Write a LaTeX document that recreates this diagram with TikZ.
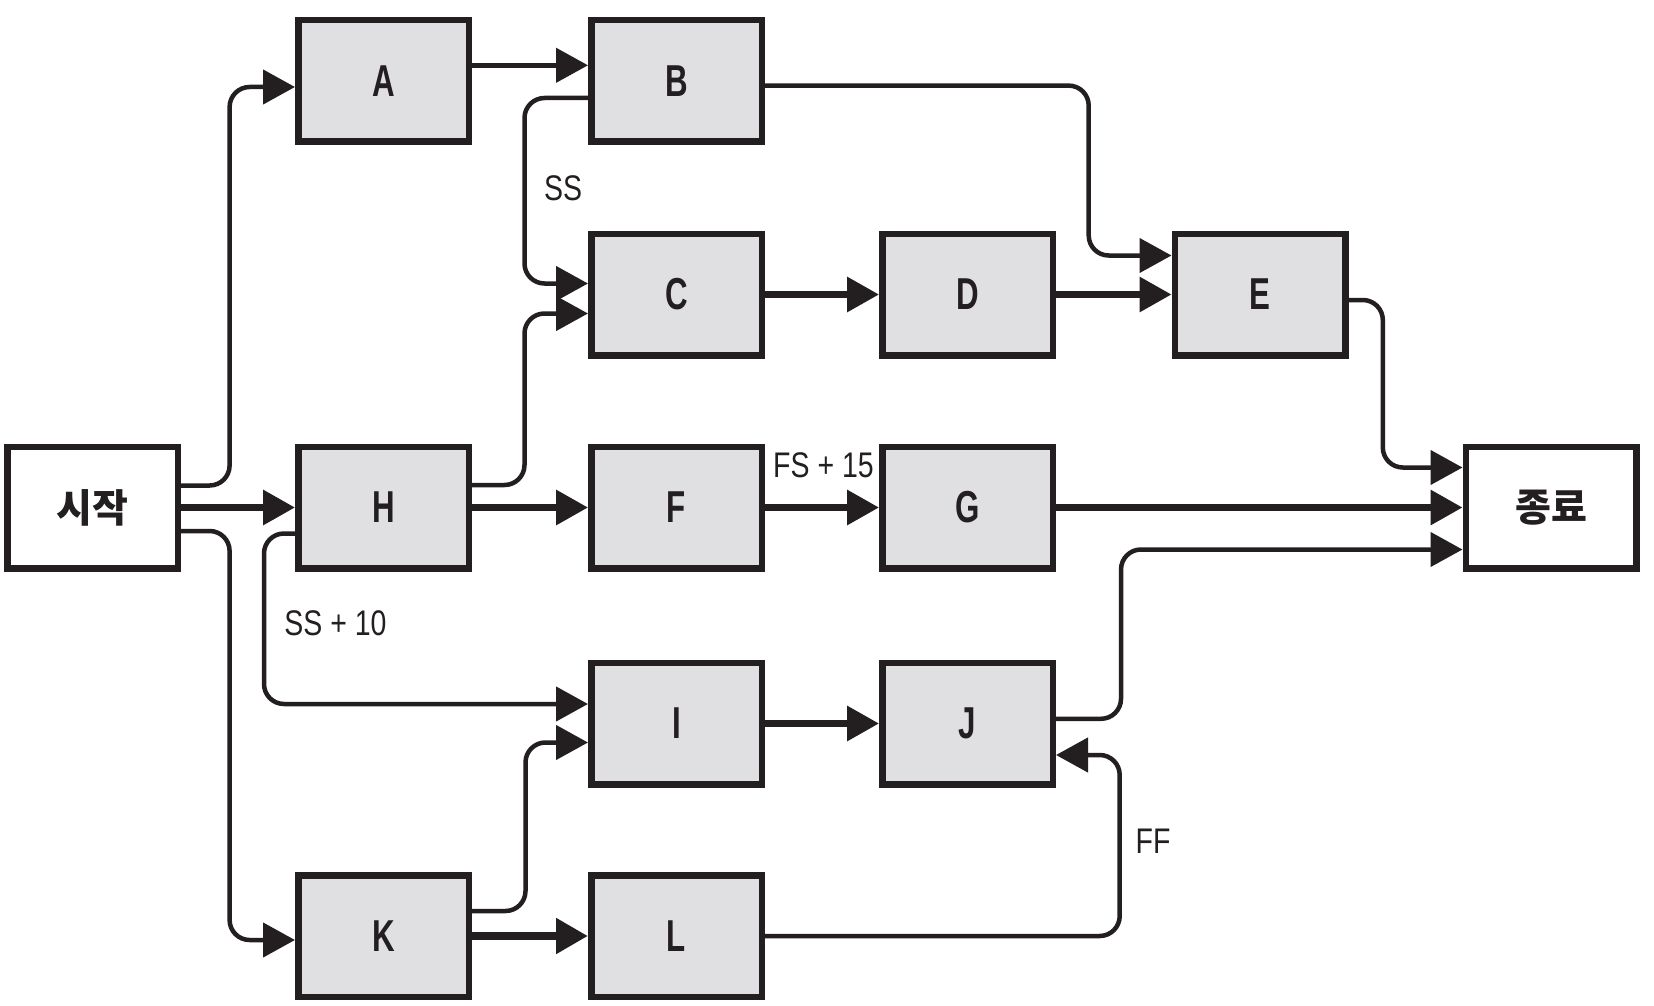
\documentclass[tikz,border=0pt]{standalone}
\usepackage{fontspec}
\setmainfont{Liberation Sans}
\newfontfamily\boxfont{Liberation Sans}[FakeStretch=0.70]
\newfontfamily\tagfont{Liberation Sans}[FakeStretch=0.80]
\newfontfamily\krfont{Noto Sans CJK KR}
\usetikzlibrary{arrows.meta,calc}
\definecolor{boxgray}{HTML}{E0E0E2}
\definecolor{ink}{HTML}{231F20}

\begin{document}
\begin{tikzpicture}[x=1pt,y=-1pt,
  task/.style={draw=ink, line width=6.5pt, fill=boxgray,
    minimum width=170.5pt, minimum height=121.5pt, inner sep=0pt,
    font=\boxfont\bfseries\fontsize{44.7}{50}\selectfont, text=ink},
  term/.style={task, fill=white, font=\krfont\bfseries\fontsize{39}{44}\selectfont},
  link/.style={draw=ink, line width=4.5pt, rounded corners=20pt,
    -{Triangle[length=32pt,width=34pt]}},
  strong/.style={link, line width=6.5pt},
  heavy/.style={link, line width=8.5pt},
  tag/.style={font=\tagfont\fontsize{35.6}{40}\selectfont, text=ink, inner sep=0pt}
]
\useasboundingbox (0,0) rectangle (1654,1006);
\fill[white] (0,0) rectangle (1654,1006);

% activity boxes
\node[term] (s) at (92.5,507.5) {시작};
\node[task] (A) at (383.5,81)    {A};
\node[task] (B) at (676.5,81)    {B};
\node[task] (C) at (676.5,294.5) {C};
\node[task] (D) at (967.5,294.5) {D};
\node[task] (E) at (1260,294.5)  {E};
\node[task] (H) at (383.5,507.5) {H};
\node[task] (F) at (676.5,507.5) {F};
\node[task] (G) at (967.5,507.5) {G};
\node[term] (T) at (1551,507.5)  {종료};
\node[task] (I) at (676.5,723.5) {I};
\node[task] (J) at (967.5,723.5) {J};
\node[task] (K) at (383.5,936)   {K};
\node[task] (L) at (676.5,936)   {L};

% vertical runs of the routed connectors
\coordinate (busSA) at (229.6,286);
\coordinate (busSK) at (229.6,735);
\coordinate (busBE) at (1088.7,170);
\coordinate (busBC) at (524.5,190);
\coordinate (busHC) at (524.5,400);
\coordinate (busET) at (1382.8,384);
\coordinate (busJT) at (1121,634);
\coordinate (busHI) at (264,620);
\coordinate (busKI) at (525.5,827);
\coordinate (busLJ) at (1119.7,845);

% straight links
\draw[strong] (s) -- (H);
\draw[link] ($(A.east)+(0,-15.7)$) -- ($(B.west)+(0,-15.7)$);
\draw[strong] (C) -- (D);
\draw[strong] (D) -- (E);
\draw[strong] (H) -- (F);
\draw[strong] (F) -- (G);
\draw[strong] (G) -- (T);
\draw[strong] (I) -- (J);
\draw[heavy] (K) -- (L);

% routed links
\draw[link] ($(s.east)+(0,-22)$) -| (busSA) |- ($(A.west)+(0,6)$);
\draw[link] ($(s.east)+(0,23.5)$) -| (busSK) |- ($(K.west)+(0,4)$);
\draw[link] ($(B.east)+(0,4.6)$) -| (busBE) |- ($(E.west)+(0,-39)$);
\draw[link] ($(B.west)+(0,17)$) -| (busBC) |- ($(C.west)+(0,-11)$);
\draw[link] ($(H.east)+(0,-22.5)$) -| (busHC) |- ($(C.west)+(0,19)$);
\draw[link] ($(E.east)+(0,5.5)$) -| (busET) |- ($(T.west)+(0,-40)$);
\draw[link] ($(J.east)+(0,-4.7)$) -| (busJT) |- ($(T.west)+(0,42)$);
\draw[link] ($(H.west)+(0,26)$) -| (busHI) |- ($(I.west)+(0,-19.5)$);
\draw[link] ($(K.east)+(0,-25)$) -| (busKI) |- ($(I.west)+(0,19)$);
\draw[link] (L.east) -| (busLJ) |- ($(J.east)+(0,31.5)$);

% lag labels
\node[tag] (lss)   at (563,188)    {SS};
\node[tag] (lss10) at (335.5,623)  {SS + 10};
\node[tag] (lfs)   at (823.5,465)  {FS + 15};
\node[tag] (lff)   at (1153,841.5) {FF};
\end{tikzpicture}
\end{document}
